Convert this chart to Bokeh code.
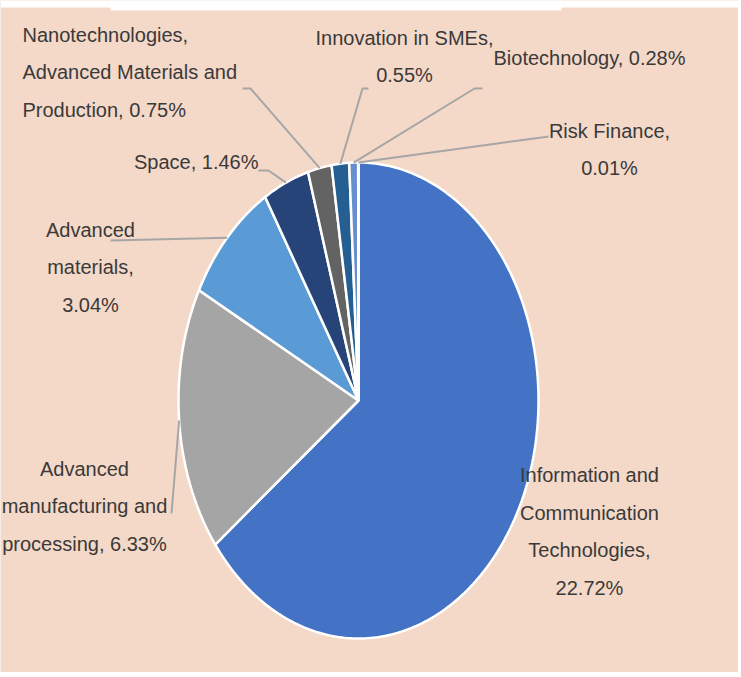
import numpy as np
from bokeh.plotting import figure
from bokeh.models import Range1d, ColumnDataSource
from bokeh.core.properties import value
from bokeh.embed import file_html
from bokeh.resources import INLINE

# ---- data ----
categories = ["Information and Communication Technologies",
              "Advanced manufacturing and processing",
              "Advanced materials",
              "Space",
              "Nanotechnologies, Advanced Materials and Production",
              "Innovation in SMEs",
              "Biotechnology",
              "Risk Finance"]
shares = [22.72, 6.33, 3.04, 1.46, 0.75, 0.55, 0.28, 0.01]
label_texts = ["Information and\nCommunication\nTechnologies,\n22.72%",
               "Advanced\nmanufacturing and\nprocessing, 6.33%",
               "Advanced\nmaterials,\n3.04%",
               "Space, 1.46%",
               "Nanotechnologies,\nAdvanced Materials and\nProduction, 0.75%",
               "Innovation in SMEs,\n0.55%",
               "Biotechnology, 0.28%",
               "Risk Finance,\n0.01%"]
colors = ["#4472C4", "#A5A5A5", "#5B9BD5", "#264478",
          "#636363", "#255E91", "#698ED0", "#9E480E"]

# ---- layout (page pixel coordinates) ----
W, H = 738, 672
BG = "#F4D8C8"
cx, cy, rx, ry = 358, 400, 180, 238

lab_x = [589, 84, 90, 258, 22, 404, 493, 609]
lab_y = [531, 506, 267, 161, 72, 56, 57, 149]
lab_align = ["center", "center", "center", "right", "left", "center", "left", "center"]
lead_pts = [None,
            [(171, 513)],
            [(110, 240)],
            [(258, 170), (268, 170)],
            [(242, 88), (250, 88)],
            [(368, 88), (362, 88)],
            [(482, 88), (474, 88)],
            [(548, 136), (541, 137)]]

p = figure(width=W, height=H, output_backend="svg", toolbar_location=None,
           x_range=Range1d(0, W), y_range=Range1d(H, 0),
           min_border=0, background_fill_color=BG, border_fill_color=BG,
           outline_line_color=None)
p.axis.visible = False
p.grid.visible = False

# white strip along the top edge of the scanned image
p.quad(left=[0, 110], right=[W, 561], top=[0, 0], bottom=[7, 10],
       fill_color="white", line_color=None)

total = float(sum(shares))
cum = np.concatenate([[0.0], np.cumsum(shares)]) / total * 2 * np.pi

xs, ys = [], []
mids = []
for i in range(len(shares)):
    a0, a1 = cum[i], cum[i + 1]
    n = max(3, int((a1 - a0) / (2 * np.pi) * 400))
    t = np.linspace(a0, a1, n)
    px = np.concatenate([[cx], cx + rx * np.sin(t)])
    py = np.concatenate([[cy], cy - ry * np.cos(t)])
    xs.append(list(px))
    ys.append(list(py))
    m = (a0 + a1) / 2
    mids.append((cx + rx * np.sin(m), cy - ry * np.cos(m)))

p.patches(xs=xs, ys=ys, fill_color=colors, line_color="white", line_width=2.5)

lx, ly = [], []
for i, pts in enumerate(lead_pts):
    if pts is None:
        continue
    lx.append([q[0] for q in pts] + [mids[i][0]])
    ly.append([q[1] for q in pts] + [mids[i][1]])
p.multi_line(xs=lx, ys=ly, line_color="#A6A6A6", line_width=2)

src = ColumnDataSource(dict(x=lab_x, y=lab_y, text=label_texts, align=lab_align))
p.text(x="x", y="y", text="text", source=src, text_align="align",
       text_baseline="middle", text_font=value("Liberation Sans"),
       text_font_size="20px", text_color="#3A3A3A", text_line_height=1.7)

open("out.html", "w").write(file_html(p, INLINE))
